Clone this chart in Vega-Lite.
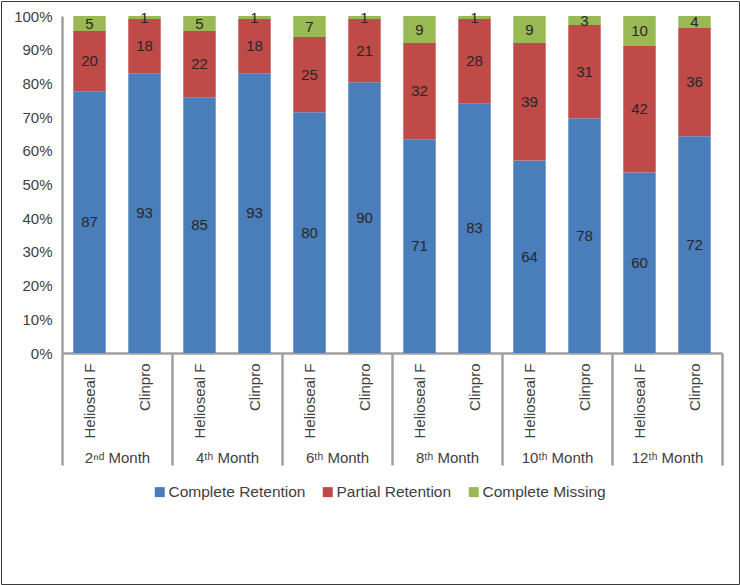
{
  "$schema": "https://vega.github.io/schema/vega-lite/v6.json",
  "width": 738,
  "height": 583,
  "autosize": {"type": "none"},
  "padding": {"left": 1, "top": 1, "right": 1, "bottom": 1},
  "background": "white",
  "config": {
    "view": {"stroke": "#3a3a3a", "strokeWidth": 1},
    "font": "Liberation Sans",
    "axis": {"grid": false, "labelFont": "Liberation Sans", "labelColor": "#404040", "labelFontSize": 15}
  },
  "data": {"values": [
    {"bar": "2|Helioseal F", "month": "2ⁿᵈ Month", "status": "Complete Retention", "order": 1, "count": 87},
    {"bar": "2|Helioseal F", "month": "2ⁿᵈ Month", "status": "Partial Retention", "order": 2, "count": 20},
    {"bar": "2|Helioseal F", "month": "2ⁿᵈ Month", "status": "Complete Missing", "order": 3, "count": 5},
    {"bar": "2|Clinpro", "month": "2ⁿᵈ Month", "status": "Complete Retention", "order": 1, "count": 93},
    {"bar": "2|Clinpro", "month": "2ⁿᵈ Month", "status": "Partial Retention", "order": 2, "count": 18},
    {"bar": "2|Clinpro", "month": "2ⁿᵈ Month", "status": "Complete Missing", "order": 3, "count": 1},
    {"bar": "4|Helioseal F", "month": "4ᵗʰ Month", "status": "Complete Retention", "order": 1, "count": 85},
    {"bar": "4|Helioseal F", "month": "4ᵗʰ Month", "status": "Partial Retention", "order": 2, "count": 22},
    {"bar": "4|Helioseal F", "month": "4ᵗʰ Month", "status": "Complete Missing", "order": 3, "count": 5},
    {"bar": "4|Clinpro", "month": "4ᵗʰ Month", "status": "Complete Retention", "order": 1, "count": 93},
    {"bar": "4|Clinpro", "month": "4ᵗʰ Month", "status": "Partial Retention", "order": 2, "count": 18},
    {"bar": "4|Clinpro", "month": "4ᵗʰ Month", "status": "Complete Missing", "order": 3, "count": 1},
    {"bar": "6|Helioseal F", "month": "6ᵗʰ Month", "status": "Complete Retention", "order": 1, "count": 80},
    {"bar": "6|Helioseal F", "month": "6ᵗʰ Month", "status": "Partial Retention", "order": 2, "count": 25},
    {"bar": "6|Helioseal F", "month": "6ᵗʰ Month", "status": "Complete Missing", "order": 3, "count": 7},
    {"bar": "6|Clinpro", "month": "6ᵗʰ Month", "status": "Complete Retention", "order": 1, "count": 90},
    {"bar": "6|Clinpro", "month": "6ᵗʰ Month", "status": "Partial Retention", "order": 2, "count": 21},
    {"bar": "6|Clinpro", "month": "6ᵗʰ Month", "status": "Complete Missing", "order": 3, "count": 1},
    {"bar": "8|Helioseal F", "month": "8ᵗʰ Month", "status": "Complete Retention", "order": 1, "count": 71},
    {"bar": "8|Helioseal F", "month": "8ᵗʰ Month", "status": "Partial Retention", "order": 2, "count": 32},
    {"bar": "8|Helioseal F", "month": "8ᵗʰ Month", "status": "Complete Missing", "order": 3, "count": 9},
    {"bar": "8|Clinpro", "month": "8ᵗʰ Month", "status": "Complete Retention", "order": 1, "count": 83},
    {"bar": "8|Clinpro", "month": "8ᵗʰ Month", "status": "Partial Retention", "order": 2, "count": 28},
    {"bar": "8|Clinpro", "month": "8ᵗʰ Month", "status": "Complete Missing", "order": 3, "count": 1},
    {"bar": "10|Helioseal F", "month": "10ᵗʰ Month", "status": "Complete Retention", "order": 1, "count": 64},
    {"bar": "10|Helioseal F", "month": "10ᵗʰ Month", "status": "Partial Retention", "order": 2, "count": 39},
    {"bar": "10|Helioseal F", "month": "10ᵗʰ Month", "status": "Complete Missing", "order": 3, "count": 9},
    {"bar": "10|Clinpro", "month": "10ᵗʰ Month", "status": "Complete Retention", "order": 1, "count": 78},
    {"bar": "10|Clinpro", "month": "10ᵗʰ Month", "status": "Partial Retention", "order": 2, "count": 31},
    {"bar": "10|Clinpro", "month": "10ᵗʰ Month", "status": "Complete Missing", "order": 3, "count": 3},
    {"bar": "12|Helioseal F", "month": "12ᵗʰ Month", "status": "Complete Retention", "order": 1, "count": 60},
    {"bar": "12|Helioseal F", "month": "12ᵗʰ Month", "status": "Partial Retention", "order": 2, "count": 42},
    {"bar": "12|Helioseal F", "month": "12ᵗʰ Month", "status": "Complete Missing", "order": 3, "count": 10},
    {"bar": "12|Clinpro", "month": "12ᵗʰ Month", "status": "Complete Retention", "order": 1, "count": 72},
    {"bar": "12|Clinpro", "month": "12ᵗʰ Month", "status": "Partial Retention", "order": 2, "count": 36},
    {"bar": "12|Clinpro", "month": "12ᵗʰ Month", "status": "Complete Missing", "order": 3, "count": 4}
  ]},
  "layer": [
    {
      "layer": [
        {
          "mark": {"type": "bar"},
          "encoding": {
            "x": {
              "field": "bar", "type": "nominal", "sort": null,
              "scale": {"range": [61, 721], "paddingInner": 0.41, "paddingOuter": 0.205},
              "axis": {
                "orient": "bottom", "offset": -231, "title": null,
                "labelExpr": "split(datum.label, '|')[1]",
                "labelAngle": -90, "labelPadding": 10, "ticks": false,
                "domainColor": "#a0a0a0", "domainWidth": 2.5
              }
            },
            "y": {
              "field": "count", "type": "quantitative", "stack": "normalize",
              "scale": {"range": [352, 15]},
              "axis": {
                "title": null, "offset": -61, "format": ".0%",
                "values": [0, 0.1, 0.2, 0.3, 0.4, 0.5, 0.6, 0.7, 0.8, 0.9, 1],
                "ticks": false, "labelPadding": 10,
                "domainColor": "#a0a0a0", "domainWidth": 2.5
              }
            },
            "color": {
              "field": "status", "type": "nominal",
              "scale": {
                "domain": ["Complete Retention", "Partial Retention", "Complete Missing"],
                "range": ["#4a7ebb", "#be4b48", "#98b954"]
              },
              "legend": {
                "title": null, "orient": "none", "legendX": 151, "legendY": 483,
                "direction": "horizontal", "symbolType": "square", "symbolSize": 100,
                "symbolStrokeWidth": 0, "labelFontSize": 15.5, "labelColor": "#404040",
                "labelFont": "Liberation Sans", "columnPadding": 14, "labelOffset": 1
              }
            },
            "order": {"field": "order", "type": "quantitative"}
          }
        },
        {
          "mark": {"type": "text", "fontSize": 15, "color": "#262626", "font": "Liberation Sans"},
          "encoding": {
            "x": {"field": "bar", "type": "nominal", "sort": null},
            "y": {"field": "count", "type": "quantitative", "stack": "normalize", "bandPosition": 0.5},
            "detail": {"field": "status", "type": "nominal"},
            "order": {"field": "order", "type": "quantitative"},
            "text": {"field": "count", "type": "quantitative"}
          }
        }
      ]
    },
    {
      "mark": {"type": "point", "opacity": 0},
      "encoding": {
        "x": {
          "field": "month", "type": "nominal", "sort": null,
          "scale": {"range": [61, 721], "padding": 0},
          "axis": {
            "orient": "bottom", "offset": -231, "title": null,
            "tickBand": "extent", "tickSize": 112, "tickWidth": 2.5, "tickColor": "#a0a0a0",
            "domain": false, "labelAngle": 0, "labelPadding": -15, "labelBaseline": "top"
          }
        }
      }
    }
  ],
  "resolve": {"scale": {"x": "independent"}}
}
